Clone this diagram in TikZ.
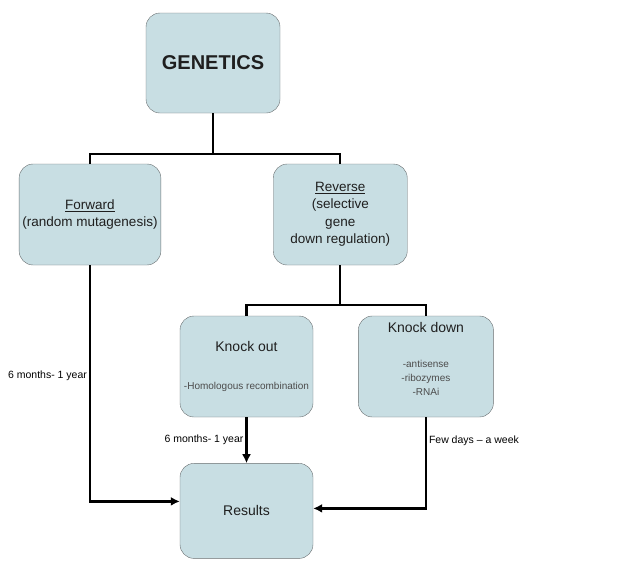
\documentclass[tikz,border=0pt]{standalone}
\usepackage{fontspec}
\setmainfont{Liberation Sans}
\usepackage{xcolor}
\usepackage{tikz}
\usetikzlibrary{arrows.meta, positioning}

\definecolor{boxfill}{RGB}{200,222,227}
\definecolor{boxline}{RGB}{105,110,112}
\newcommand{\listtext}{\fontsize{10}{12}\selectfont\color{black!70}}

\begin{document}
\begin{tikzpicture}[
    x=1pt, y=1pt,
    box/.style={draw=boxline, fill=boxfill, rounded corners=14pt, minimum width=134pt, minimum height=101pt, align=center, text=black!88, font=\fontsize{13.5}{17.5}\selectfont},
    tree/.style={draw, line width=2.2pt},
    line/.style={draw, line width=2.2pt, -{Latex[length=9pt, width=9pt]}},
    time/.style={font=\fontsize{10.5}{12}\selectfont, inner sep=2pt}
]
    \useasboundingbox (0,0) rectangle (635,-560);

    % Boxes
    \node[box, minimum height=100pt, font=\bfseries\fontsize{20}{24}\selectfont] (genetics) at (213,-63) {GENETICS};
    \node[box] (forward) at (90,-214.5) {\underline{Forward}\\(random mutagenesis)};
    \node[box, right=112pt of forward] (reverse) {\underline{Reverse}\\(selective\\gene\\down regulation)};
    \node[box, minimum width=133pt, font=\fontsize{14}{17.5}\selectfont] (knockout) at (246.5,-366.5) {Knock out\\[21pt]{\listtext -Homologous recombination}};
    \node[box, minimum width=135pt, font=\fontsize{14}{17.5}\selectfont, right=45pt of knockout] (knockdown) {Knock down\\[17.5pt]{\listtext -antisense}\\[-3.5pt]{\listtext -ribozymes}\\[-3.5pt]{\listtext -RNAi}\\[-2pt]~};
    \node[box, minimum width=133pt, minimum height=95pt, font=\fontsize{14}{17.5}\selectfont, below=46pt of knockout] (results) {Results};

    % Tree lines
    \coordinate[below=41pt of genetics.south] (split1);
    \coordinate[below=40pt of reverse.south] (split2);
    \draw[tree] (genetics.south) -- (split1);
    \draw[tree] (forward.north) |- (split1) -| (reverse.north);
    \draw[tree] (reverse.south) -- (split2);
    \draw[tree] (knockout.north) |- (split2) -| (knockdown.north);

    % Arrows to results
    \draw[line] (forward.south) |- node[time, left, pos=0.235] {6 months- 1 year} ([yshift=9.5pt]results.west);
    \draw[line] (knockout) -- node[time, left] {6 months- 1 year} (results);
    \draw[line] (knockdown.south) |- node[time, right, pos=0.13] {Few days – a week} ([yshift=2.5pt]results.east);
\end{tikzpicture}
\end{document}
